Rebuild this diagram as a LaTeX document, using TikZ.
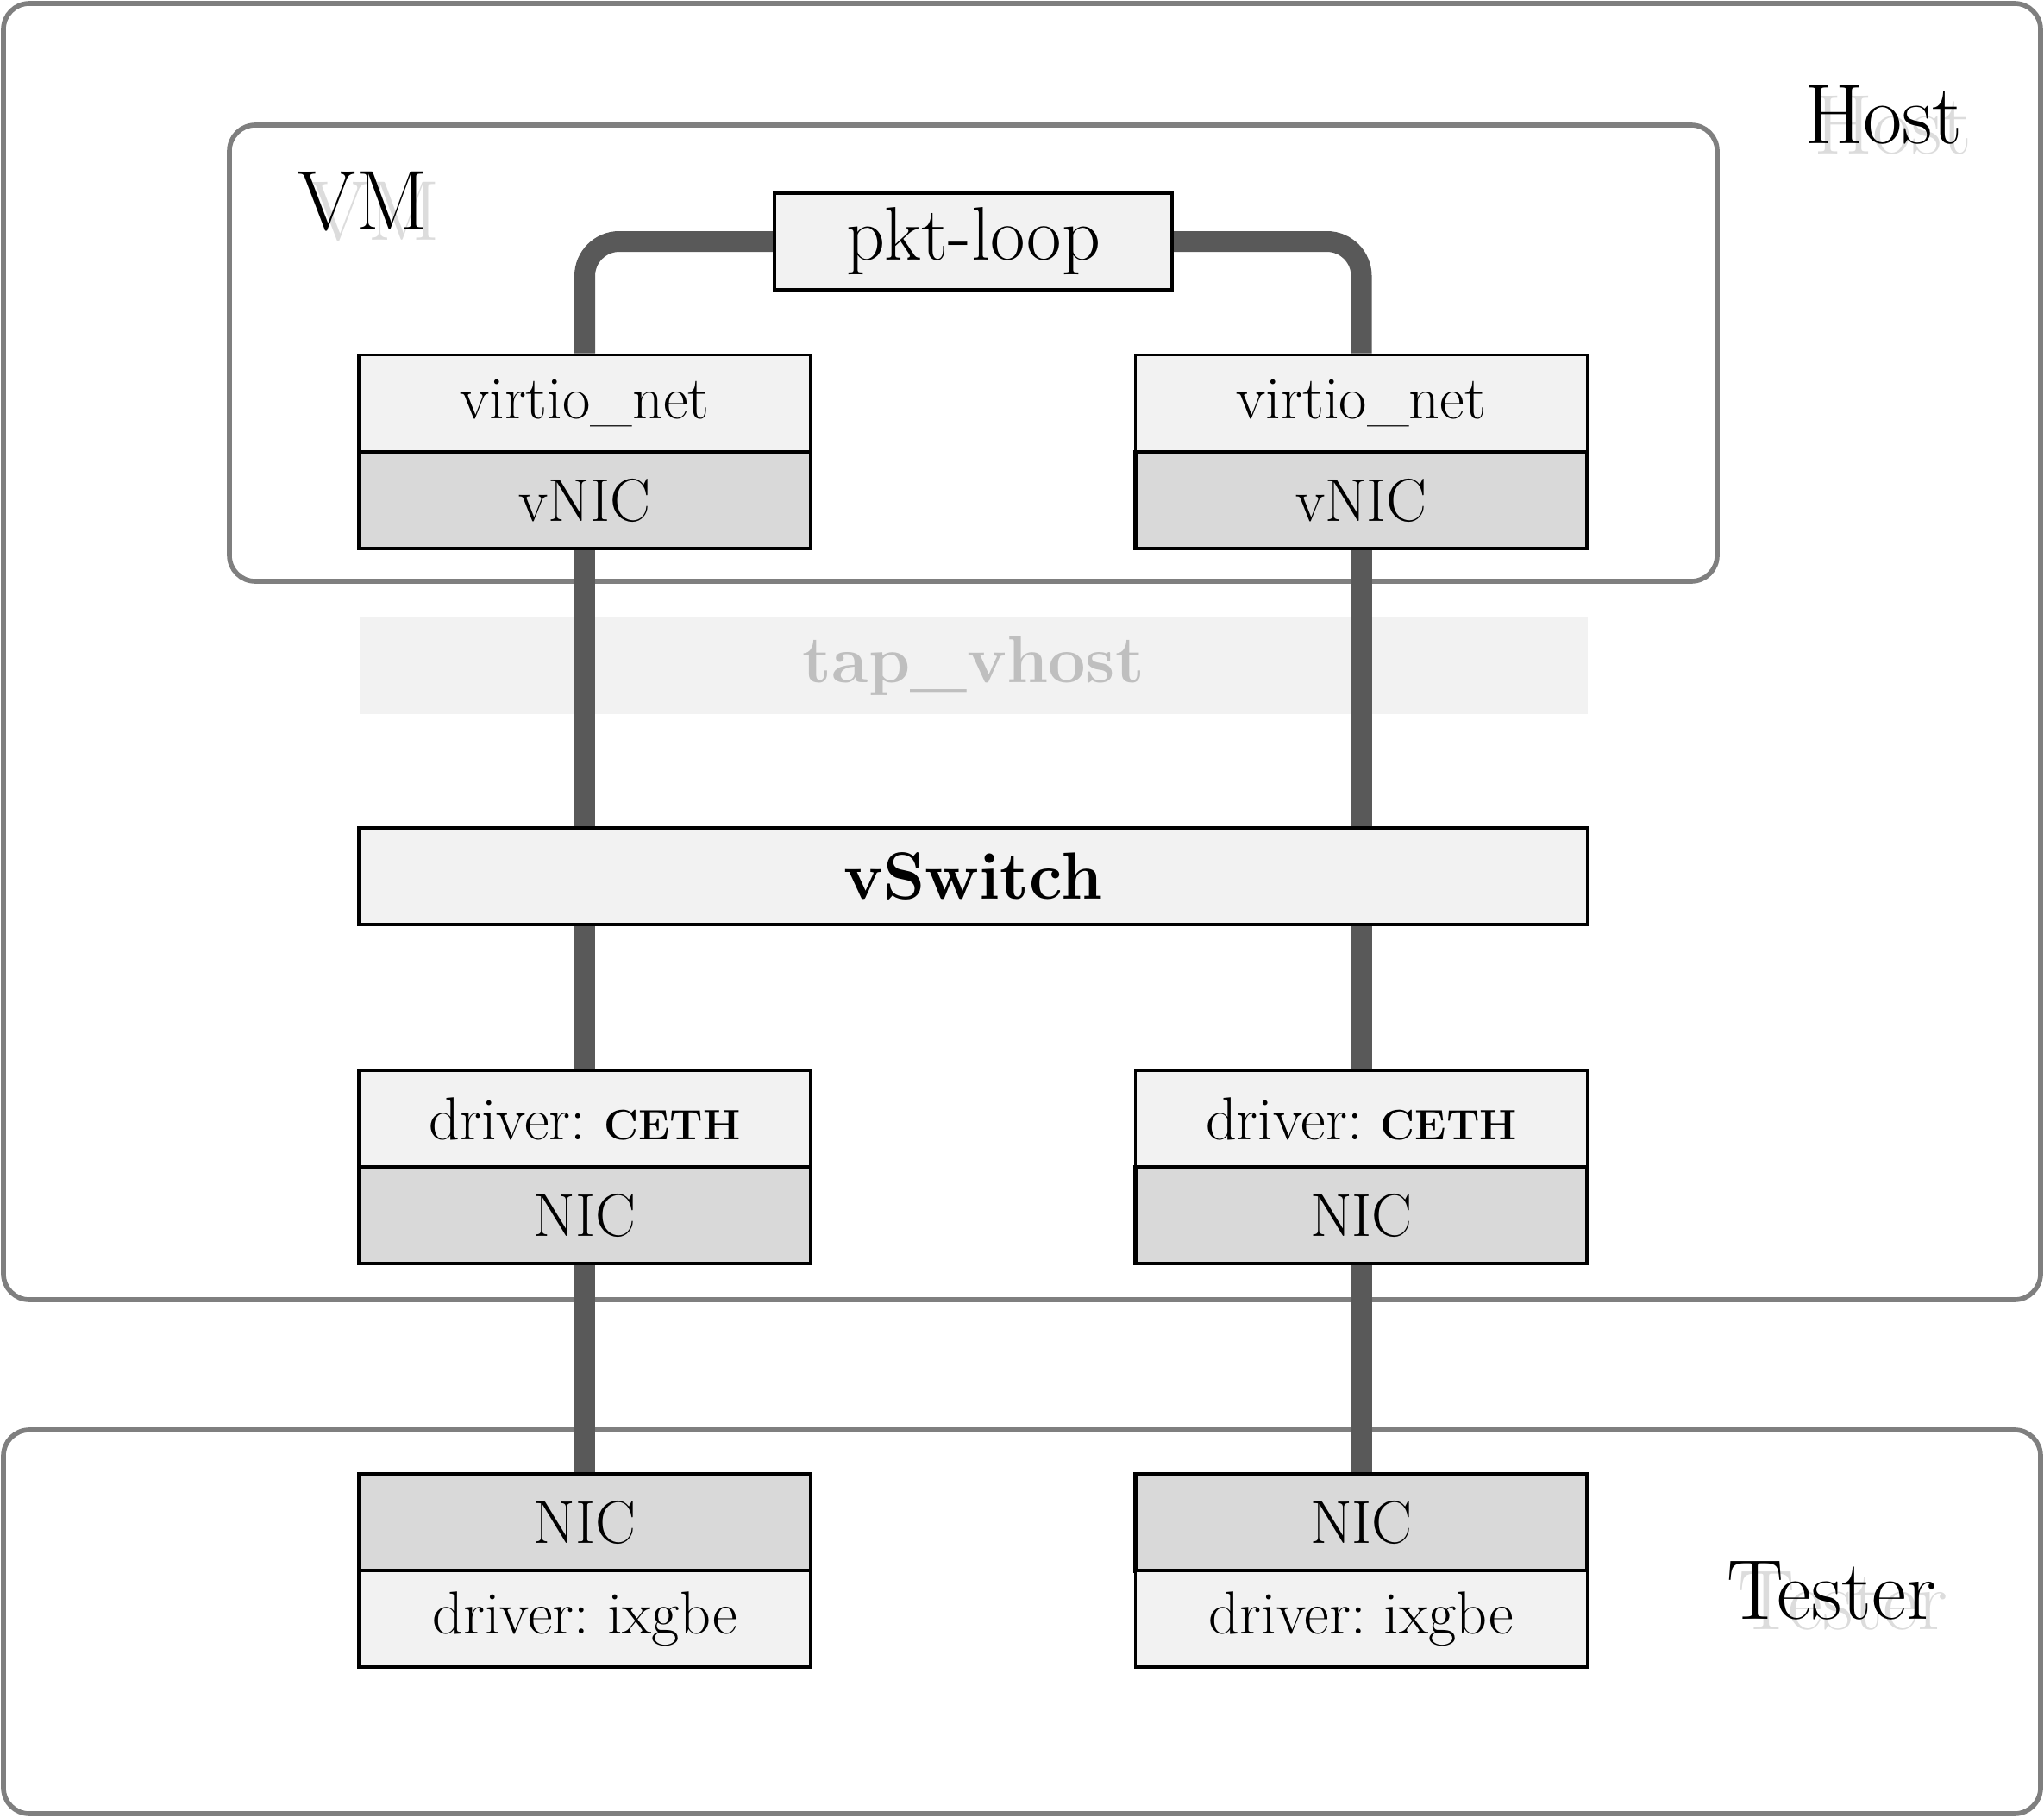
\documentclass[tikz,border=0pt]{standalone}
\usepackage{fontspec}
\frenchspacing
\definecolor{lightfill}{HTML}{F2F2F2}
\definecolor{darkfill}{HTML}{D9D9D9}
\definecolor{wire}{HTML}{595959}
\definecolor{framegray}{HTML}{7F7F7F}
\definecolor{shadowtxt}{HTML}{DCDCDC}
\definecolor{bandtxt}{HTML}{BFBFBF}
\pgfdeclarelayer{bg}
\pgfdeclarelayer{mid}
\pgfsetlayers{bg,mid,main}
\begin{document}
\begin{tikzpicture}[
  lightbox/.style={draw=black, line width=1.1pt, fill=lightfill, minimum width=5.24cm, minimum height=1.12cm, inner sep=0pt, font=\fontsize{20}{24}\selectfont},
  darkbox/.style={lightbox, fill=darkfill, line width=1.4pt},
  wirestyle/.style={draw=wire, line width=0.24cm},
  framebox/.style={draw=framegray, line width=1.6pt, rounded corners=0.3cm, inner sep=0pt},
  biglabel/.style={font=\fontsize{28}{33}\selectfont, inner sep=0pt},
  shadowlabel/.style={biglabel, text=shadowtxt}]
\useasboundingbox (0,0) rectangle (23.7,-21.07);

\begin{pgfonlayer}{bg}
  \node[framebox, minimum width=23.62cm, minimum height=15.03cm] (host) at (11.85,-7.555) {};
  \node[framebox, minimum width=23.62cm, minimum height=4.45cm] (tester) at (11.85,-18.805) {};
  \node[framebox, minimum width=17.25cm, minimum height=5.29cm] (vm) at (11.285,-4.095) {};
  \node[fill=lightfill, minimum width=14.24cm, minimum height=1.12cm, inner sep=0pt, text=bandtxt, font=\bfseries\fontsize{22}{26}\selectfont] (band) at (11.29,-7.72) {tap\_vhost};
  \node[shadowlabel] (hostsh) at (21.95,-1.45) {Host};
  \node[shadowlabel] (vmsh) at (4.34,-2.46) {VM};
  \node[shadowlabel] (testersh) at (21.37,-18.56) {Tester};
\end{pgfonlayer}

\node[biglabel] (hostlbl) at (21.84,-1.33) {Host};
\node[biglabel] (vmlbl) at (4.2,-2.34) {VM};
\node[biglabel] (testerlbl) at (21.24,-18.44) {Tester};

\node[lightbox, minimum width=4.61cm, font=\fontsize{25}{30}\selectfont] (pkt) at (11.285,-2.80) {pkt-loop};

\node[lightbox] (virtL) at (6.78,-4.675) {virtio\_net};
\node[darkbox] (vnicL) at (6.78,-5.80) {vNIC};
\node[lightbox] (virtR) at (15.785,-4.675) {virtio\_net};
\node[darkbox] (vnicR) at (15.785,-5.80) {vNIC};

\node[lightbox, minimum width=14.25cm, font=\bfseries\fontsize{22}{26}\selectfont] (sw) at (11.285,-10.16) {vSwitch};

\node[lightbox] (drvL) at (6.78,-12.97) {driver: {\bfseries\fontsize{14}{16}\selectfont CETH}};
\node[darkbox] (nicL) at (6.78,-14.09) {NIC};
\node[lightbox] (drvR) at (15.785,-12.97) {driver: {\bfseries\fontsize{14}{16}\selectfont CETH}};
\node[darkbox] (nicR) at (15.785,-14.09) {NIC};

\node[darkbox] (tnicL) at (6.78,-17.655) {NIC};
\node[lightbox] (ixL) at (6.78,-18.77) {driver: ixgbe};
\node[darkbox] (tnicR) at (15.785,-17.655) {NIC};
\node[lightbox] (ixR) at (15.785,-18.77) {driver: ixgbe};

\begin{pgfonlayer}{mid}
  \draw[wirestyle, rounded corners=0.4cm] (pkt.west) -| (virtL.north);
  \draw[wirestyle, rounded corners=0.4cm] (pkt.east) -| (virtR.north);
  \draw[wirestyle] (vnicL.south) -- (vnicL.south |- sw.north);
  \draw[wirestyle] (vnicR.south) -- (vnicR.south |- sw.north);
  \draw[wirestyle] (sw.south -| drvL.north) -- (drvL.north);
  \draw[wirestyle] (sw.south -| drvR.north) -- (drvR.north);
  \draw[wirestyle] (nicL.south) -- (tnicL.north);
  \draw[wirestyle] (nicR.south) -- (tnicR.north);
\end{pgfonlayer}
\end{tikzpicture}
\end{document}
